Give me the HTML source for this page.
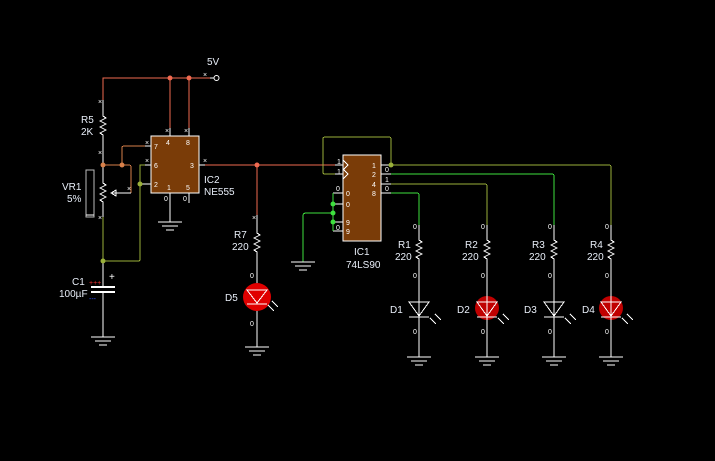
<!DOCTYPE html>
<html><head><meta charset="utf-8"><style>
html,body{margin:0;padding:0;background:#000;}
svg{display:block;}
text{font-family:"Liberation Sans",sans-serif;font-size:10px;fill:#e8eef8;}
.s{font-size:7px;fill:#fff;}
.c path,.c rect,.c line{shape-rendering:crispEdges;}
</style></head><body>
<svg width="715" height="461" viewBox="0 0 715 461" xmlns="http://www.w3.org/2000/svg">
<rect width="715" height="461" fill="#000"/>
<g fill="none" stroke-width="1" class="c">
<path d="M103 100 V78 H210" stroke="#f06a50"/>
<path d="M170 78 V128 M189 78 V128" stroke="#f06a50"/>
<path d="M210 78 H214" stroke="#fff"/>
<circle cx="216.5" cy="78" r="2.5" stroke="#fff"/>
<path d="M103 100 V116 l3 2 l-6 3 l6 3 l-6 3 l6 3 l-6 3 l3 2 V165" stroke="#fff"/>
<path d="M103 165 H129 q2 0 2 2 V193" stroke="#d8804a"/>
<path d="M122 165 V148 q0 -2 2 -2 H145" stroke="#d8804a"/>
<path d="M103 165 V183 l3 2 l-6 3 l6 3 l-6 3 l6 3 l-6 3 l3 2 V217" stroke="#fff"/>
<path d="M131 193 H112" stroke="#fff"/>
<path d="M111 193 l5 -3 v6 z" stroke="#fff"/>
<rect x="86" y="170" width="8" height="47" stroke="#bbb"/>
<line x1="86" y1="215" x2="94" y2="215" stroke="#fff"/>
<path d="M103 217 V261 H138 q2 0 2 -2 V165 H145" stroke="#9ab03a"/>
<path d="M140 184 H151" stroke="#fff"/>
<path d="M145 146 H151 M145 165 H151" stroke="#fff"/>
<path d="M103 261 V287 M103 292 V337" stroke="#fff"/>
<path d="M91 287 H115 M91 292 H115" stroke="#fff" stroke-width="2"/>
<rect x="151" y="136" width="48" height="57" fill="#7a3c08" stroke="#fff"/>
<path d="M170 128 V136 M189 128 V136 M170 193 V222 M189 193 V203" stroke="#fff"/>
<path d="M199 165 H205" stroke="#fff"/>
<path d="M205 165 H335" stroke="#f06a50"/>
<path d="M257 165 V215" stroke="#f06a50"/>
<path d="M257 215 V233 l3 2 l-6 3 l6 3 l-6 3 l6 3 l-6 3 l3 2 V347" stroke="#fff"/>
<path d="M335 165 H343 M335 174 H343" stroke="#fff"/>
<path d="M391 165 V139 q0 -2 -2 -2 H325 q-2 0 -2 2 V172 q0 2 2 2 H335" stroke="#9ab03a"/>
<rect x="343" y="155" width="38" height="86" fill="#7a3c08" stroke="#fff"/>
<path d="M343 160 l5 5 l-5 5 M343 169 l5 5 l-5 5" stroke="#fff"/>
<path d="M381 165 H391 M381 174 H391 M381 184 H391 M381 193 H391" stroke="#fff"/>
<path d="M391 165 H609 q2 0 2 2 V225" stroke="#9ab03a"/>
<path d="M391 174 H552 q2 0 2 2 V225" stroke="#3ee03e"/>
<path d="M391 184 H485 q2 0 2 2 V225" stroke="#9ab03a"/>
<path d="M391 193 H417 q2 0 2 2 V225" stroke="#3ee03e"/>
<path d="M333 193 H343 M333 204 H343 M333 222 H343 M333 231 H343" stroke="#fff"/>
<path d="M333 193 V231 M303 216 q0 -3 3 -3 H333 M303 216 V262" stroke="#3ee03e"/>
</g>
<g>
<circle cx="170" cy="78" r="2.5" fill="#f06a50"/><circle cx="189" cy="78" r="2.5" fill="#f06a50"/>
<circle cx="103" cy="165" r="2.5" fill="#d8804a"/><circle cx="122" cy="165" r="2.5" fill="#d8804a"/>
<circle cx="140" cy="184" r="2.5" fill="#9ab03a"/><circle cx="103" cy="261" r="2.5" fill="#9ab03a"/>
<circle cx="257" cy="165" r="2.5" fill="#f06a50"/><circle cx="391" cy="165" r="2.5" fill="#9ab03a"/>
<circle cx="333" cy="204" r="2.5" fill="#3ee03e"/><circle cx="333" cy="213" r="2.5" fill="#3ee03e"/><circle cx="333" cy="222" r="2.5" fill="#3ee03e"/>
<circle cx="257" cy="297" r="14" fill="#e00000"/>
<circle cx="487" cy="308" r="12" fill="#c00000"/><circle cx="611" cy="308" r="12" fill="#c00000"/>
</g>
<g fill="none" stroke="#fff" class="c">
<path d="M247 290 H267 L257 303 Z M247 304 H267"/>
<path d="M268 305 l6 6 M272 301 l6 6"/>
<path d="M91 337 H115 M95 341 H111 M99 345 H107"/>
<path d="M158 222 H182 M162 226 H178 M166 230 H174"/>
<path d="M245 347 H269 M249 351 H265 M253 355 H261"/>
<path d="M291 262 H315 M295 266 H311 M299 270 H307"/>
<path d="M419 225 V240 l3 2 l-6 3 l6 3 l-6 3 l6 3 l-6 3 l3 2 V357 M409 302 H429 L419 316 Z M409 317 H429 M407 357 H431 M411 361 H427 M415 365 H423 M430 318 l6 6 M435 314 l6 6"/>
<path d="M487 225 V240 l3 2 l-6 3 l6 3 l-6 3 l6 3 l-6 3 l3 2 V357 M477 302 H497 L487 316 Z M477 317 H497 M475 357 H499 M479 361 H495 M483 365 H491 M498 318 l6 6 M503 314 l6 6"/>
<path d="M554 225 V240 l3 2 l-6 3 l6 3 l-6 3 l6 3 l-6 3 l3 2 V357 M544 302 H564 L554 316 Z M544 317 H564 M542 357 H566 M546 361 H562 M550 365 H558 M565 318 l6 6 M570 314 l6 6"/>
<path d="M611 225 V240 l3 2 l-6 3 l6 3 l-6 3 l6 3 l-6 3 l3 2 V357 M601 302 H621 L611 316 Z M601 317 H621 M599 357 H623 M603 361 H619 M607 365 H615 M622 318 l6 6 M627 314 l6 6"/>
</g>
<text x="89" y="285" style="font-size:7px;fill:#f03030">+++</text>
<text x="89" y="301" style="font-size:7px;fill:#3050ff">---</text>
<text x="109" y="280" style="fill:#fff">+</text>
<text x="207" y="65">5V</text>
<text x="81" y="123">R5</text><text x="81" y="135">2K</text>
<text x="62" y="190">VR1</text><text x="67" y="202">5%</text>
<text x="72" y="285">C1</text><text x="59" y="297">100µF</text>
<text x="204" y="183">IC2</text><text x="204" y="195">NE555</text>
<text x="234" y="238">R7</text><text x="232" y="250">220</text>
<text x="225" y="301">D5</text>
<text x="354" y="255">IC1</text><text x="346" y="268">74LS90</text>
<text x="398" y="248">R1</text><text x="395" y="260">220</text>
<text x="465" y="248">R2</text><text x="462" y="260">220</text>
<text x="532" y="248">R3</text><text x="529" y="260">220</text>
<text x="590" y="248">R4</text><text x="587" y="260">220</text>
<text x="390" y="313">D1</text><text x="457" y="313">D2</text><text x="524" y="313">D3</text><text x="582" y="313">D4</text>
<g class="s">
<text x="154" y="149" class="s">7</text><text x="166" y="145" class="s">4</text><text x="186" y="145" class="s">8</text>
<text x="154" y="168" class="s">6</text><text x="190" y="168" class="s">3</text>
<text x="154" y="187" class="s">2</text><text x="167" y="190" class="s">1</text><text x="186" y="190" class="s">5</text>
<text x="372" y="168" class="s">1</text><text x="372" y="177" class="s">2</text><text x="372" y="187" class="s">4</text><text x="372" y="196" class="s">8</text>
<text x="346" y="196" class="s">0</text><text x="346" y="207" class="s">0</text><text x="346" y="225" class="s">9</text><text x="346" y="234" class="s">9</text>
<text x="337" y="164" class="s">1</text><text x="337" y="174" class="s">1</text>
<text x="385" y="172" class="s">0</text><text x="385" y="182" class="s">1</text><text x="385" y="191" class="s">0</text>
<text x="336" y="191" class="s">0</text><text x="336" y="230" class="s">0</text>
<text x="164" y="201" class="s">0</text><text x="183" y="201" class="s">0</text>
<text x="250" y="278" class="s">0</text><text x="250" y="326" class="s">0</text>
<text x="413" y="229" class="s">0</text><text x="481" y="229" class="s">0</text><text x="548" y="229" class="s">0</text><text x="605" y="229" class="s">0</text>
<text x="413" y="278" class="s">0</text><text x="481" y="278" class="s">0</text><text x="548" y="278" class="s">0</text><text x="605" y="278" class="s">0</text>
<text x="413" y="334" class="s">0</text><text x="481" y="334" class="s">0</text><text x="548" y="334" class="s">0</text><text x="605" y="334" class="s">0</text>
<text x="98" y="104" class="s">×</text><text x="98" y="155" class="s">×</text><text x="98" y="220" class="s">×</text>
<text x="203" y="77" class="s">×</text><text x="165" y="133" class="s">×</text><text x="184" y="133" class="s">×</text>
<text x="145" y="145" class="s">×</text><text x="145" y="163" class="s">×</text><text x="127" y="191" class="s">×</text>
<text x="203" y="163" class="s">×</text><text x="252" y="220" class="s">×</text>
</g>
</svg>
</body></html>
